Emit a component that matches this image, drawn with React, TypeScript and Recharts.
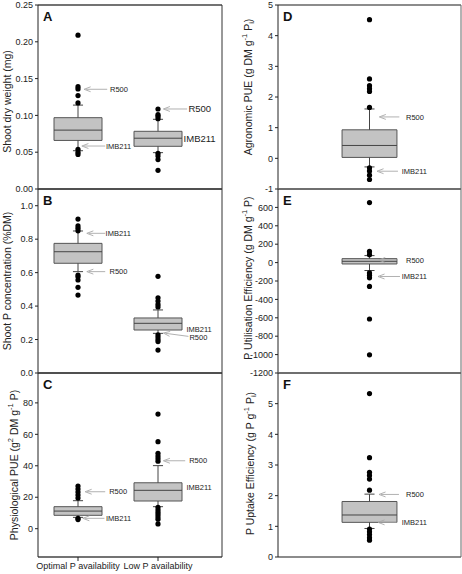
import React from 'react';
import { ComposedChart, XAxis, YAxis, Scatter, ReferenceArea, ReferenceLine } from 'recharts';

const FONT = "'Liberation Sans', Arial, Helvetica, sans-serif";

// ---------- categories ----------
const groupLabels = ['Optimal P availability', 'Low P availability'];
const leftPositions = [1, 2];
const rightPositions = [1];

// ---------- A: shoot dry weight ----------
const dwTicks = [0, 0.05, 0.1, 0.15, 0.2, 0.25];
const dwBoxes = [
  { lo: 0.052, q1: 0.066, med: 0.08, q3: 0.0969, hi: 0.114 },
  { lo: 0.0494, q1: 0.058, med: 0.069, q3: 0.0784, hi: 0.0947 },
];
const dwOutliers = [
  [0.209, 0.139, 0.136, 0.127, 0.117, 0.054, 0.05, 0.047],
  [0.1087, 0.101, 0.099, 0.0955, 0.0485, 0.045, 0.04, 0.0254],
];
const dwArrows = [
  { x1: 1.076, y1: 0.1355, x2: 1.365, y2: 0.1355 },
  { x1: 1.048, y1: 0.0584, x2: 1.34, y2: 0.0584 },
  { x1: 2.067, y1: 0.1087, x2: 2.364, y2: 0.1087 },
];
const dwNotes = [
  { x: 1.4, y: 0.1355, text: 'R500', size: 7.5 },
  { x: 1.35, y: 0.0584, text: 'IMB211', size: 7.5 },
  { x: 2.38, y: 0.1087, text: 'R500', size: 9.5 },
  { x: 2.32, y: 0.0683, text: 'IMB211', size: 9.5 },
];

// ---------- B: shoot P concentration ----------
const pcTicks = [0, 0.2, 0.4, 0.6, 0.8, 1.0];
const pcBoxes = [
  { lo: 0.606, q1: 0.656, med: 0.725, q3: 0.775, hi: 0.849 },
  { lo: 0.237, q1: 0.257, med: 0.297, q3: 0.329, hi: 0.377 },
];
const pcOutliers = [
  [0.92, 0.879, 0.865, 0.85, 0.586, 0.575, 0.556, 0.512, 0.466],
  [0.578, 0.45, 0.43, 0.41, 0.395, 0.228, 0.215, 0.2, 0.188, 0.137],
];
const pcArrows = [
  { x1: 1.11, y1: 0.835, x2: 1.34, y2: 0.835 },
  { x1: 1.11, y1: 0.606, x2: 1.34, y2: 0.606 },
  { x1: 2.067, y1: 0.239, x2: 2.38, y2: 0.219 },
];
const pcNotes = [
  { x: 1.345, y: 0.835, text: 'IMB211', size: 7.5 },
  { x: 1.394, y: 0.606, text: 'R500', size: 7.5 },
  { x: 2.355, y: 0.261, text: 'IMB211', size: 7.5 },
  { x: 2.393, y: 0.215, text: 'R500', size: 7.5 },
];

// ---------- C: physiological PUE ----------
const ppTicks = [0, 20, 40, 60, 80];
const ppBoxes = [
  { lo: 7.2, q1: 8.5, med: 11.2, q3: 14.0, hi: 17.8 },
  { lo: 14.0, q1: 17.6, med: 24.4, q3: 29.2, hi: 40.1 },
];
const ppOutliers = [
  [27.1, 25.2, 23.3, 21.4, 19.5, 6.6, 5.8],
  [72.9, 55.3, 47.9, 46.2, 44.5, 42.9, 13.5, 12, 10.5, 9, 7.5, 6, 3],
];
const ppArrows = [
  { x1: 1.089, y1: 23.5, x2: 1.34, y2: 23.5 },
  { x1: 1.06, y1: 6.6, x2: 1.33, y2: 6.6 },
  { x1: 2.067, y1: 43.2, x2: 2.34, y2: 43.2 },
];
const ppNotes = [
  { x: 1.39, y: 23.5, text: 'R500', size: 7.5 },
  { x: 1.35, y: 6.6, text: 'IMB211', size: 7.5 },
  { x: 2.39, y: 43.2, text: 'R500', size: 7.5 },
  { x: 2.355, y: 26.1, text: 'IMB211', size: 7.5 },
];

// ---------- D: agronomic PUE ----------
const apTicks = [-1, 0, 1, 2, 3, 4, 5];
const apBoxes = [{ lo: -0.28, q1: 0.03, med: 0.42, q3: 0.93, hi: 1.61 }];
const apOutliers = [[4.52, 2.59, 2.37, 2.27, 2.18, 1.66, -0.31, -0.41, -0.55, -0.69]];
const apArrows = [
  { x1: 1.107, y1: 1.35, x2: 1.326, y2: 1.35 },
  { x1: 1.082, y1: -0.42, x2: 1.311, y2: -0.42 },
];
const apNotes = [
  { x: 1.399, y: 1.35, text: 'R500', size: 7.5 },
  { x: 1.352, y: -0.42, text: 'IMB211', size: 7.5 },
];

// ---------- E: P utilisation efficiency ----------
const puTicks = [-1200, -1000, -800, -600, -400, -200, 0, 200, 400, 600];
const puBoxes = [{ lo: -86, q1: -15, med: 14, q3: 43, hi: 76 }];
const puOutliers = [[652, 122, 86, -112, -137, -166, -259, -613, -1002]];
const puArrows = [
  { x1: 1.1, y1: 28, x2: 1.297, y2: 28 },
  { x1: 1.093, y1: -151, x2: 1.333, y2: -151 },
];
const puNotes = [
  { x: 1.399, y: 28, text: 'R500', size: 7.5 },
  { x: 1.352, y: -151, text: 'IMB211', size: 7.5 },
];

// ---------- F: P uptake efficiency ----------
const upTicks = [0, 1, 2, 3, 4, 5];
const upBoxes = [{ lo: 0.93, q1: 1.13, med: 1.37, q3: 1.81, hi: 2.05 }];
const upOutliers = [[5.33, 3.24, 2.76, 2.66, 2.54, 2.18, 0.91, 0.82, 0.73, 0.63, 0.55]];
const upArrows = [
  { x1: 1.104, y1: 2.04, x2: 1.322, y2: 2.04 },
  { x1: 1.093, y1: 1.13, x2: 1.297, y2: 1.13 },
];
const upNotes = [
  { x: 1.399, y: 2.04, text: 'R500', size: 7.5 },
  { x: 1.352, y: 1.13, text: 'IMB211', size: 7.5 },
];

type Part = { t: string; s?: 'sup' | 'sub' };
type Box = { lo: number; q1: number; med: number; q3: number; hi: number };
type Arrow = { x1: number; y1: number; x2: number; y2: number };
type Note = { x: number; y: number; text: string; size: number };

const MT = 8;

function tspans(parts: Part[]) {
  let shift = 0;
  return parts.map((p, i) => {
    const target = p.s === 'sup' ? -4 : p.s === 'sub' ? 2.5 : 0;
    const dy = target - shift;
    shift = target;
    return (
      <tspan key={i} dy={dy} fontSize={p.s ? 7.5 : undefined}>
        {p.t}
      </tspan>
    );
  });
}

function makeTitle(parts: Part[], dx: number, dyOff: number) {
  return function TitleContent(props: any) {
    const vb = props.viewBox || { x: 0, y: 0, width: 0, height: 0 };
    const cx = vb.x + dx;
    const cy = vb.y + vb.height / 2 + dyOff;
    return (
      <text
        x={cx}
        y={cy}
        transform={`rotate(-90 ${cx} ${cy})`}
        textAnchor="middle"
        dominantBaseline="central"
        fontSize={10.5}
        fill="#222"
        fontFamily={FONT}
      >
        {tspans(parts)}
      </text>
    );
  };
}

function arrowShape(props: any) {
  const { x1, y1, x2, y2 } = props;
  if ([x1, y1, x2, y2].some((v) => typeof v !== 'number' || isNaN(v))) return <g />;
  const ang = Math.atan2(y2 - y1, x2 - x1);
  const L = 7;
  const a = 0.36;
  const p1 = [x1 + L * Math.cos(ang - a), y1 + L * Math.sin(ang - a)];
  const p2 = [x1 + L * Math.cos(ang + a), y1 + L * Math.sin(ang + a)];
  return (
    <g>
      <line x1={x1 + 2 * Math.cos(ang)} y1={y1 + 2 * Math.sin(ang)} x2={x2} y2={y2} stroke="#a8a8a8" strokeWidth={0.9} />
      <path d={`M${p1[0]},${p1[1]} L${x1},${y1} L${p2[0]},${p2[1]}`} fill="none" stroke="#a8a8a8" strokeWidth={0.9} />
    </g>
  );
}

const dotShape = (p: any) => <circle cx={p.cx} cy={p.cy} r={2.6} fill="#000" />;
const noteShape = (p: any) => (
  <text x={p.cx} y={p.cy} dy="0.35em" fontSize={p.payload.size} fill="#222" fontFamily={FONT}>
    {p.payload.text}
  </text>
);

type PanelProps = {
  left: number;
  top: number;
  plotW: number;
  marginRight: number;
  positions: number[];
  xDomain: [number, number];
  yDomain: [number, number];
  ticks: number[];
  fmt: (v: number) => string;
  boxes: Box[];
  outliers: number[][];
  arrows: Arrow[];
  notes: Note[];
  letter: string;
  title: Part[];
  titleX: number;
  titleDy: number;
  showX: boolean;
  hStroke: string;
  hWidth: number;
  rStroke: string;
  half: number;
  cap: number;
};

function Panel(p: PanelProps) {
  const plotH = 184;
  const xH = p.showX ? 18 : 1;
  const mb = p.showX ? 0 : 7;
  const height = MT + plotH + xH + mb;
  const width = 38 + p.plotW + p.marginRight;
  const outlierData = p.positions.flatMap((pos, i) => p.outliers[i].map((y) => ({ x: pos, y })));
  const lineColor = '#444';
  return (
    <div style={{ position: 'absolute', left: p.left, top: p.top - MT }}>
      <ComposedChart
        width={width}
        height={height}
        margin={{ top: MT, right: p.marginRight, bottom: mb, left: 0 }}
        style={{ overflow: 'visible' }}
      >
        <XAxis
          xAxisId="b"
          type="number"
          dataKey="x"
          domain={p.xDomain}
          ticks={p.positions}
          interval={0}
          allowDataOverflow
          height={xH}
          tickSize={4}
          tickFormatter={(v: number) => (p.showX ? groupLabels[Math.round(v) - 1] || '' : '')}
          tick={p.showX ? { fontSize: 9, fill: '#222', fontFamily: FONT } : false}
          axisLine={{ stroke: p.hStroke, strokeWidth: p.hWidth }}
          tickLine={{ stroke: '#222' }}
        />
        <XAxis
          xAxisId="t"
          orientation="top"
          type="number"
          domain={p.xDomain}
          ticks={p.positions}
          interval={0}
          allowDataOverflow
          mirror
          height={1}
          tickSize={4}
          tick={false}
          axisLine={{ stroke: p.hStroke, strokeWidth: p.hWidth }}
          tickLine={{ stroke: '#222' }}
        />
        <YAxis
          yAxisId="l"
          type="number"
          dataKey="y"
          domain={p.yDomain}
          ticks={p.ticks}
          interval={0}
          allowDataOverflow
          width={38}
          tickSize={3}
          tickMargin={2}
          tickFormatter={p.fmt}
          tick={{ fontSize: 9, fill: '#222', fontFamily: FONT }}
          axisLine={{ stroke: '#222' }}
          tickLine={{ stroke: '#222' }}
          label={{ content: makeTitle(p.title, p.titleX, p.titleDy) }}
        />
        <YAxis
          yAxisId="r"
          orientation="right"
          type="number"
          domain={p.yDomain}
          ticks={p.ticks}
          interval={0}
          allowDataOverflow
          mirror
          width={1}
          tickSize={3}
          tick={false}
          axisLine={{ stroke: p.rStroke }}
          tickLine={{ stroke: '#222' }}
        />
        {p.boxes.map((b, i) => {
          const x = p.positions[i];
          return (
            <React.Fragment key={`box${i}`}>
              <ReferenceArea
                xAxisId="b"
                yAxisId="l"
                x1={x - p.half}
                x2={x + p.half}
                y1={b.q1}
                y2={b.q3}
                fill="#c3c3c3"
                fillOpacity={1}
                stroke="#555"
                strokeWidth={1}
              />
              <ReferenceLine xAxisId="b" yAxisId="l" segment={[{ x: x - p.half, y: b.med }, { x: x + p.half, y: b.med }]} stroke={lineColor} />
              <ReferenceLine xAxisId="b" yAxisId="l" segment={[{ x, y: b.q3 }, { x, y: b.hi }]} stroke={lineColor} />
              <ReferenceLine xAxisId="b" yAxisId="l" segment={[{ x, y: b.lo }, { x, y: b.q1 }]} stroke={lineColor} />
              <ReferenceLine xAxisId="b" yAxisId="l" segment={[{ x: x - p.cap, y: b.hi }, { x: x + p.cap, y: b.hi }]} stroke={lineColor} />
              <ReferenceLine xAxisId="b" yAxisId="l" segment={[{ x: x - p.cap, y: b.lo }, { x: x + p.cap, y: b.lo }]} stroke={lineColor} />
            </React.Fragment>
          );
        })}
        <Scatter xAxisId="b" yAxisId="l" data={outlierData} shape={dotShape} isAnimationActive={false} />
        {p.arrows.map((a, i) => (
          <ReferenceLine
            key={`ar${i}`}
            xAxisId="b"
            yAxisId="l"
            segment={[{ x: a.x1, y: a.y1 }, { x: a.x2, y: a.y2 }]}
            shape={arrowShape}
          />
        ))}
        <Scatter xAxisId="b" yAxisId="l" data={p.notes} shape={noteShape} isAnimationActive={false} />
        <text x={38 + 5} y={MT + 16} fontSize={13} fontWeight="bold" fill="#111" fontFamily={FONT}>
          {p.letter}
        </text>
      </ComposedChart>
    </div>
  );
}

const f2 = (v: number) => v.toFixed(2);
const f1 = (v: number) => v.toFixed(1);
const f0 = (v: number) => String(v);

export default function App() {
  const L = {
    left: 0,
    plotW: 184,
    marginRight: 8,
    positions: leftPositions,
    xDomain: [0.5, 2.8] as [number, number],
    hStroke: '#444',
    hWidth: 1.3,
    rStroke: '#333',
    half: 0.3,
    cap: 0.063,
  };
  const R = {
    left: 240,
    plotW: 183,
    marginRight: 1,
    positions: rightPositions,
    xDomain: [0, 2] as [number, number],
    hStroke: '#666',
    hWidth: 1.5,
    rStroke: '#666',
    half: 0.3,
    cap: 0.055,
  };
  return (
    <div style={{ position: 'absolute', left: 0, top: 0, width: 462, height: 574, background: '#fff' }}>
      <Panel
        {...L}
        top={5}
        yDomain={[0, 0.25]}
        ticks={dwTicks}
        fmt={f2}
        boxes={dwBoxes}
        outliers={dwOutliers}
        arrows={dwArrows}
        notes={dwNotes}
        letter="A"
        title={[{ t: 'Shoot dry weight (mg)' }]}
        titleX={6.5}
        titleDy={4.5}
        showX={false}
      />
      <Panel
        {...L}
        top={189}
        yDomain={[0, 1.1]}
        ticks={pcTicks}
        fmt={f1}
        boxes={pcBoxes}
        outliers={pcOutliers}
        arrows={pcArrows}
        notes={pcNotes}
        letter="B"
        title={[{ t: 'Shoot P concentration (%DM)' }]}
        titleX={6.5}
        titleDy={0}
        showX={false}
      />
      <Panel
        {...L}
        top={373}
        yDomain={[-18, 99]}
        ticks={ppTicks}
        fmt={f0}
        boxes={ppBoxes}
        outliers={ppOutliers}
        arrows={ppArrows}
        notes={ppNotes}
        letter="C"
        title={[{ t: 'Physiological PUE (g' }, { t: '2', s: 'sup' }, { t: ' DM g' }, { t: '-1', s: 'sup' }, { t: ' P)' }]}
        titleX={13.5}
        titleDy={0}
        showX={true}
      />
      <Panel
        {...R}
        top={5}
        yDomain={[-1, 5]}
        ticks={apTicks}
        fmt={f0}
        boxes={apBoxes}
        outliers={apOutliers}
        arrows={apArrows}
        notes={apNotes}
        letter="D"
        title={[{ t: 'Agronomic PUE (g DM g' }, { t: '-1', s: 'sup' }, { t: ' P' }, { t: 'i', s: 'sub' }, { t: ')' }]}
        titleX={8}
        titleDy={-10}
        showX={false}
      />
      <Panel
        {...R}
        top={189}
        yDomain={[-1200, 800]}
        ticks={puTicks}
        fmt={f0}
        boxes={puBoxes}
        outliers={puOutliers}
        arrows={puArrows}
        notes={puNotes}
        letter="E"
        title={[{ t: 'P Utilisation Efficiency (g DM g' }, { t: '-1', s: 'sup' }, { t: ' P)' }]}
        titleX={7.5}
        titleDy={-3}
        showX={false}
      />
      <Panel
        {...R}
        top={373}
        yDomain={[0, 6]}
        ticks={upTicks}
        fmt={f0}
        boxes={upBoxes}
        outliers={upOutliers}
        arrows={upArrows}
        notes={upNotes}
        letter="F"
        title={[{ t: 'P Uptake Efficiency (g P g' }, { t: '-1', s: 'sup' }, { t: ' P' }, { t: 'i', s: 'sub' }, { t: ')' }]}
        titleX={10}
        titleDy={-1.5}
        showX={false}
      />
    </div>
  );
}
